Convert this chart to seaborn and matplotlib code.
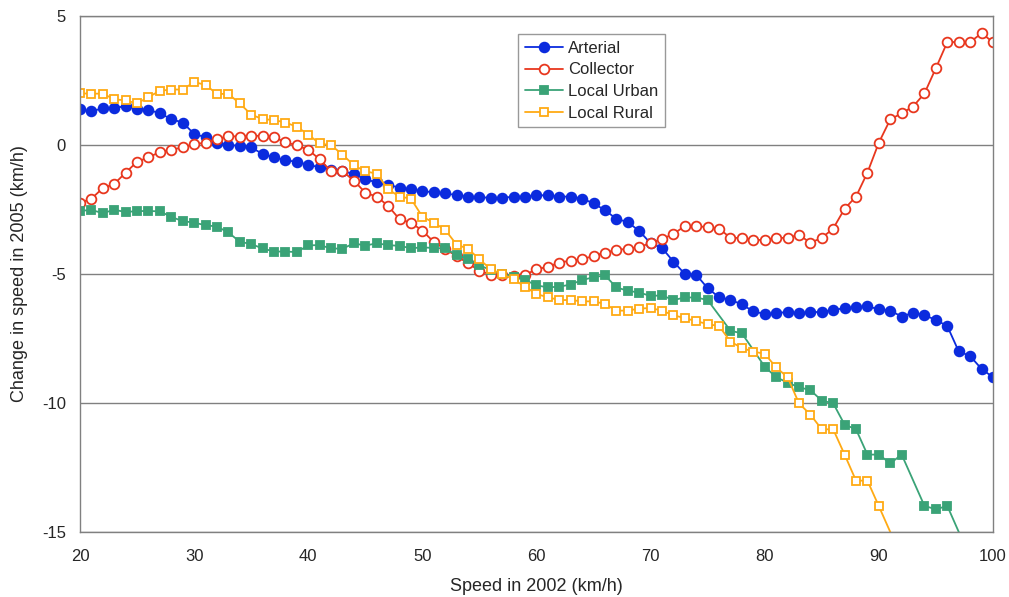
import numpy as np
import pandas as pd
import seaborn as sns
import matplotlib.pyplot as plt

# speed in 2002 (km/h)
speed_2002 = list(range(20, 101))

# change in speed in 2005 (km/h), one value per speed, None = no point
arterial = [1.38, 1.30, 1.43, 1.43, 1.51, 1.41, 1.36, 1.23, 1.00, 0.87,
            0.43, 0.30, 0.09, 0.00, -0.03, -0.09, -0.35, -0.48, -0.58, -0.66,
            -0.76, -0.87, -0.95, -1.02, -1.12, -1.33, -1.45, -1.55, -1.65, -1.72,
            -1.78, -1.84, -1.88, -1.94, -2.00, -2.02, -2.05, -2.05, -2.00, -2.00,
            -1.95, -1.95, -2.00, -2.00, -2.08, -2.26, -2.53, -2.86, -2.99, -3.33,
            -3.81, -3.99, -4.52, -5.00, -5.03, -5.55, -5.90, -6.00, -6.18, -6.45,
            -6.55, -6.52, -6.47, -6.52, -6.48, -6.47, -6.40, -6.32, -6.29, -6.25,
            -6.37, -6.42, -6.65, -6.50, -6.60, -6.78, -7.02, -8.00, -8.18, -8.68,
            -9.00]

collector = [-2.24, -2.08, -1.67, -1.51, -1.07, -0.65, -0.48, -0.27, -0.19, -0.09,
             0.03, 0.09, 0.22, 0.35, 0.32, 0.35, 0.36, 0.31, 0.10, -0.01,
             -0.19, -0.55, -1.02, -1.02, -1.38, -1.85, -2.00, -2.36, -2.88, -3.01,
             -3.32, -3.76, -4.04, -4.30, -4.59, -4.87, -5.03, -5.03, -5.08, -5.03,
             -4.82, -4.72, -4.56, -4.48, -4.43, -4.30, -4.17, -4.07, -4.02, -3.97,
             -3.79, -3.64, -3.45, -3.14, -3.14, -3.19, -3.24, -3.60, -3.60, -3.68,
             -3.68, -3.60, -3.60, -3.48, -3.79, -3.60, -3.24, -2.47, -2.00, -1.07,
             0.09, 0.99, 1.23, 1.49, 2.00, 2.98, 3.99, 3.99, 3.99, 4.33,
             3.99]

local_urban = [-2.55, -2.52, -2.64, -2.51, -2.60, -2.56, -2.56, -2.57, -2.79, -2.95,
               -3.01, -3.11, -3.16, -3.39, -3.75, -3.84, -4.01, -4.13, -4.13, -4.15,
               -3.89, -3.88, -4.01, -4.02, -3.81, -3.90, -3.81, -3.88, -3.91, -4.00,
               -3.97, -3.99, -4.01, -4.27, -4.41, -4.66, -4.85, -5.00, -5.10, -5.23,
               -5.44, -5.52, -5.49, -5.41, -5.23, -5.13, -5.05, -5.52, -5.65, -5.72,
               -5.85, -5.83, -6.01, -5.91, -5.91, -6.01, None, -7.20, -7.30, None,
               -8.59, -9.00, -9.21, -9.39, -9.50, -9.91, -10.01, -10.84, -11.02, -12.00,
               -12.00, -12.34, -12.00, None, -13.99, -14.12, -13.99, None, -16.00, None,
               None]

local_rural = [2.00, 1.99, 1.99, 1.77, 1.73, 1.61, 1.86, 2.10, 2.15, 2.15,
               2.44, 2.33, 1.98, 1.98, 1.61, 1.18, 1.00, 0.97, 0.87, 0.71,
               0.40, 0.06, -0.01, -0.37, -0.79, -1.02, -1.11, -1.72, -2.00, -2.08,
               -2.78, -3.01, -3.29, -3.86, -4.02, -4.43, -4.82, -5.00, -5.21, -5.49,
               -5.78, -5.90, -6.01, -6.01, -6.06, -6.06, -6.16, -6.42, -6.42, -6.34,
               -6.32, -6.42, -6.60, -6.71, -6.83, -6.94, -7.02, -7.62, -7.87, -8.01,
               -8.09, -8.62, -9.00, -10.01, -10.45, -11.02, -11.02, -12.00, -13.01, -13.01,
               -14.00, None, -16.00, None, None, None, None, None, None, None,
               None]

series_names = ["Arterial", "Collector", "Local Urban", "Local Rural"]
series_values = [arterial, collector, local_urban, local_rural]
colors = ["#0B2BDE", "#E8371E", "#3AA377", "#FFAA14"]
markers = ["o", "o", "s", "s"]
filled = [True, False, True, False]

x_ticks = [20, 30, 40, 50, 60, 70, 80, 90, 100]
y_ticks = [-15, -10, -5, 0, 5]

sns.set_style("white")
plt.rcParams["font.family"] = ["Liberation Sans", "DejaVu Sans"]
plt.rcParams["axes.unicode_minus"] = False

fig = plt.figure(figsize=(10.09, 5.97), dpi=100)
ax = fig.add_axes([0.0793, 0.1089, 0.9048, 0.8643])

for name, vals, col, mk, fl in zip(series_names, series_values, colors, markers, filled):
    df = pd.DataFrame({"speed": speed_2002, "change": vals}).dropna()
    sns.lineplot(data=df, x="speed", y="change", ax=ax, color=col, lw=1.3,
                 marker=mk, markersize=7 if mk == "o" else 6.3,
                 markerfacecolor=col if fl else "white",
                 markeredgecolor=col, markeredgewidth=1.3,
                 label=name, sort=False)

ax.set_xlim(20, 100)
ax.set_ylim(-15, 5)
ax.set_xticks(x_ticks)
ax.set_yticks(y_ticks)
ax.yaxis.grid(True, color="#808080", lw=1)
ax.set_axisbelow(True)
for s in ax.spines.values():
    s.set_color("#808080")
    s.set_linewidth(1)
ax.tick_params(axis="both", direction="out", length=5, width=1, color="#808080",
               labelsize=12, pad=5)
ax.tick_params(axis="x", pad=7)

ax.set_xlabel("Speed in 2002 (km/h)", fontsize=13, labelpad=10)
ax.set_ylabel("Change in speed in 2005 (km/h)", fontsize=13, labelpad=10)

leg = ax.legend(loc="upper left", bbox_to_anchor=(0.4797, 0.965), fontsize=12,
                frameon=True, fancybox=False, shadow=False, borderpad=0.4,
                borderaxespad=0, labelspacing=0.4, handlelength=2.3,
                handletextpad=0.3)
leg.get_frame().set_edgecolor("#808080")
leg.get_frame().set_linewidth(1)

fig.savefig("out.png", dpi=100)
